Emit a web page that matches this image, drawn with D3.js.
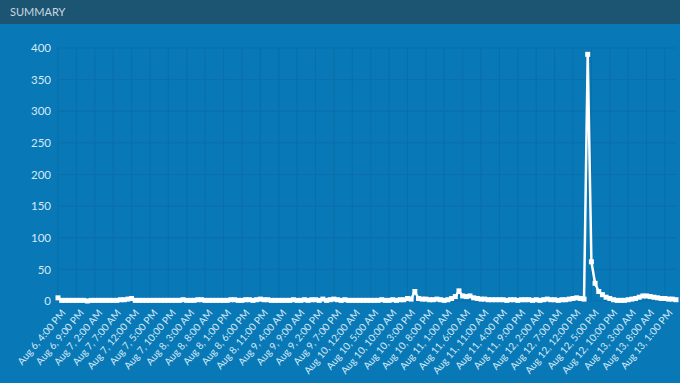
<!DOCTYPE html>
<html>
<head>
<meta charset="utf-8">
<script src="https://d3js.org/d3.v7.min.js"></script>
<style>
  body { margin: 0; background: #0878b6; }
  svg { display: block; font-family: Lato, "Open Sans", sans-serif; }
</style>
</head>
<body>
<svg width="680" height="383"></svg>
<script>
// hourly readings, Aug 6 4:00 PM -> Aug 13 4:00 PM
var startTime = "2016-08-06 16:00";
var values = [
  5, 1, 1, 1, 1, 1, 1, 1, 0, 1,
  1, 1, 1, 1, 1, 1, 1, 2, 2, 3,
  4, 1, 1, 1, 1, 1, 1, 1, 1, 1,
  1, 1, 1, 1, 2, 1, 1, 1, 2, 2,
  1, 1, 1, 1, 1, 1, 1, 2, 2, 1,
  1, 2, 2, 1, 2, 3, 2, 2, 1, 1,
  1, 1, 1, 1, 2, 1, 1, 2, 1, 2,
  2, 1, 3, 1, 2, 3, 2, 1, 2, 1,
  1, 1, 1, 1, 1, 1, 1, 1, 2, 1,
  1, 2, 1, 2, 2, 4, 3, 15, 4, 3,
  3, 2, 2, 3, 2, 1, 2, 4, 7, 16,
  8, 7, 8, 5, 4, 3, 3, 2, 2, 2,
  2, 2, 1, 2, 2, 1, 2, 2, 2, 1,
  2, 1, 2, 3, 2, 2, 1, 2, 2, 3,
  4, 5, 4, 3, 390, 62, 28, 15, 10, 6,
  4, 2, 1, 1, 1, 2, 3, 4, 6, 8,
  8, 7, 6, 5, 4, 4, 3, 3, 2
];
var yTicks = [0, 50, 100, 150, 200, 250, 300, 350, 400];
var tickEvery = 5; // hours between x labels

var svg = d3.select("svg"),
    margin = {top: 48, right: 4, bottom: 82, left: 58},
    width = 680 - margin.left - margin.right,
    height = 383 - margin.top - margin.bottom;

// header bar
svg.append("rect")
    .attr("width", 680)
    .attr("height", 24)
    .attr("fill", "#1c5572");
svg.append("text")
    .attr("x", 10)
    .attr("y", 16)
    .attr("fill", "#c9d7e0")
    .attr("font-size", 11)
    .text("SUMMARY");

var parseTime = d3.timeParse("%Y-%m-%d %H:%M");
var t0 = parseTime(startTime);
var data = values.map(function(v, i) {
  return {date: d3.timeHour.offset(t0, i), value: v};
});

var g = svg.append("g")
    .attr("transform", "translate(" + margin.left + "," + margin.top + ")");

var x = d3.scaleTime()
    .domain(d3.extent(data, function(d) { return d.date; }))
    .range([0, width]);

var y = d3.scaleLinear()
    .domain([0, 400])
    .range([height, 0]);

var xTickDates = data.filter(function(d, i) { return i % tickEvery === 0; })
    .map(function(d) { return d.date; });

// grid
g.append("g")
    .selectAll("line")
    .data(xTickDates)
    .enter().append("line")
      .attr("x1", function(d) { return x(d); })
      .attr("x2", function(d) { return x(d); })
      .attr("y1", 0)
      .attr("y2", height)
      .attr("stroke", "#0b6ea9")
      .attr("stroke-width", 1);

g.append("g")
    .selectAll("line")
    .data(yTicks)
    .enter().append("line")
      .attr("x1", 0)
      .attr("x2", width)
      .attr("y1", function(d) { return y(d); })
      .attr("y2", function(d) { return y(d); })
      .attr("stroke", "#0b6ea9")
      .attr("stroke-width", 1);

// y axis labels
var yAxis = g.append("g")
    .call(d3.axisLeft(y).tickValues(yTicks).tickSize(0).tickPadding(7));
yAxis.select(".domain").remove();
yAxis.selectAll("text")
    .attr("fill", "#d6eaf6")
    .attr("font-size", 11.5)
    .attr("font-family", "Lato, sans-serif");

// x axis labels
var fmt = d3.timeFormat("%b %-d, %-I:%M %p");
var xAxis = g.append("g")
    .attr("transform", "translate(0," + height + ")")
    .call(d3.axisBottom(x).tickValues(xTickDates).tickFormat(fmt).tickSize(0));
xAxis.select(".domain").remove();
xAxis.selectAll("text")
    .attr("fill", "#d6eaf6")
    .attr("font-size", 10)
    .attr("font-family", "Lato, sans-serif")
    .attr("text-anchor", "end")
    .attr("dy", "0.35em")
    .attr("transform", "translate(5,10) rotate(-50)")
    .attr("y", 0)
    .attr("x", 0);

var line = d3.line()
    .x(function(d) { return x(d.date); })
    .y(function(d) { return y(d.value); });

g.append("path")
    .datum(data)
    .attr("fill", "none")
    .attr("stroke", "#fff")
    .attr("stroke-width", 2.5)
    .attr("stroke-linejoin", "round")
    .attr("d", line);

g.append("g")
    .selectAll("rect")
    .data(data)
    .enter().append("rect")
      .attr("x", function(d) { return x(d.date) - 2.5; })
      .attr("y", function(d) { return y(d.value) - 2.5; })
      .attr("width", 5)
      .attr("height", 5)
      .attr("fill", "#fff");
</script>
</body>
</html>
